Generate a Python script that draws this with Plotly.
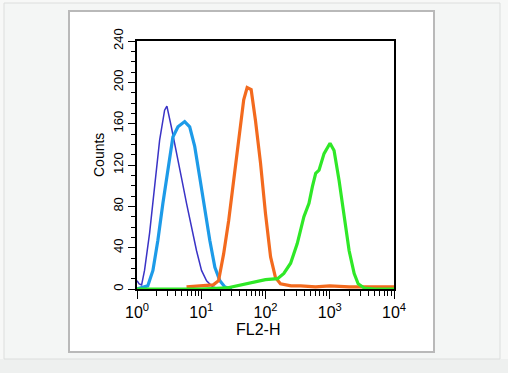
import plotly.graph_objects as go

# ---- data ----
dark_x = [1.0, 1.08, 1.18, 1.31, 1.57, 1.88, 2.25, 2.69, 2.92, 3.42, 4.10, 4.91, 5.89, 7.05, 8.45, 10.1, 12.1, 15.1, 20.0, 30.0]
dark_y = [8, 5, 4, 18, 54, 96, 144, 173, 177, 157, 134, 108, 83, 60, 37, 18, 8, 2, 0, 0]

light_x = [1.0, 1.47, 1.77, 2.11, 2.53, 3.03, 3.62, 4.34, 4.9, 5.52, 6.61, 7.91, 9.48, 11.3, 13.6, 16.3, 19.5, 23.3, 30.0]
light_y = [0, 3, 18, 47, 83, 118, 147, 157, 160, 162, 157, 138, 108, 76, 47, 21, 8, 2, 0]

orange_x = [5.9, 10.0, 15.4, 18.6, 22.3, 26.7, 32.0, 38.3, 45.8, 51.8, 59.8, 69.8, 83.6, 100, 120, 143, 171, 250, 352, 600, 1000, 2000, 5000, 10000]
orange_y = [2, 3, 4, 8, 34, 66, 105, 147, 183, 195, 193, 163, 122, 73, 31, 11, 5, 3, 3, 2, 3, 2, 2, 2]

green_x = [1.0, 10, 25, 40.6, 64.9, 100, 154, 193, 246, 312, 396, 475, 537, 604, 681, 815, 1010, 1167, 1397, 1671, 2003, 2400, 2768, 3436, 5000, 10000]
green_y = [0, 0, 1, 4, 7, 9, 10, 15, 25, 44, 70, 83, 99, 112, 115, 131, 141, 134, 105, 70, 37, 15, 5, 1, 0, 0]

x_tickvals = [1, 10, 100, 1000, 10000]
x_ticktext = ["10<sup>0</sup>", "10<sup>1</sup>", "10<sup>2</sup>", "10<sup>3</sup>", "10<sup>4</sup>"]
y_tickvals = [0, 40, 80, 120, 160, 200, 240]
x_minor = [m * 10 ** d for d in range(4) for m in range(2, 10)]

# ---- layout geometry ----
W, H = 508, 373
ML, MR, MT, MB = 137, 114, 41, 84
PW, PH = W - ML - MR, H - MT - MB


def px(x):
    return (x - ML) / PW


def py(y):
    return (H - MB - y) / PH


fig = go.Figure()
fig.add_trace(go.Scatter(x=dark_x, y=dark_y, mode="lines", line=dict(color="#3a33c6", width=1.5)))
fig.add_trace(go.Scatter(x=light_x, y=light_y, mode="lines", line=dict(color="#1d9be8", width=3.2)))
fig.add_trace(go.Scatter(x=orange_x, y=orange_y, mode="lines", line=dict(color="#f36a1e", width=3.2)))
fig.add_trace(go.Scatter(x=green_x, y=green_y, mode="lines", line=dict(color="#2fe827", width=3.2)))

shapes = [
    dict(type="rect", xref="paper", yref="paper", x0=px(0), x1=px(W), y0=py(H), y1=py(359),
         fillcolor="#eef0ef", line=dict(width=0), layer="below"),
    dict(type="rect", xref="paper", yref="paper", x0=px(4), x1=px(500), y0=py(359), y1=py(3),
         fillcolor="#f4f6f5", line=dict(color="#dcdedd", width=1), layer="below"),
    dict(type="rect", xref="paper", yref="paper", x0=px(69), x1=px(434), y0=py(352), y1=py(11),
         fillcolor="white", line=dict(color="#b9b9b9", width=2), layer="below"),
]

font_main = "Liberation Sans, Arial, sans-serif"

fig.update_layout(
    width=W, height=H,
    margin=dict(l=ML, r=MR, t=MT, b=MB, pad=0),
    paper_bgcolor="#f7f8f7",
    plot_bgcolor="white",
    showlegend=False,
    shapes=shapes,
    font=dict(family=font_main, color="black", size=13),
    xaxis=dict(
        type="log", range=[0, 4], tickmode="array", tickvals=x_tickvals, ticktext=x_ticktext,
        ticks="outside", ticklen=8, tickwidth=1.4, tickcolor="black",
        showline=True, linecolor="black", linewidth=2, mirror=True,
        showgrid=False, zeroline=False, tickfont=dict(size=16),
        minor=dict(tickmode="array", tickvals=x_minor, ticks="outside", ticklen=5,
                   tickwidth=1.2, tickcolor="black", showgrid=False),
    ),
    yaxis=dict(
        range=[0, 240], tickmode="array", tickvals=y_tickvals, tickangle=-90,
        ticks="outside", ticklen=7, tickwidth=1.4, tickcolor="black",
        showline=True, linecolor="black", linewidth=2, mirror=True,
        showgrid=False, zeroline=False, tickfont=dict(size=13),
        minor=dict(dtick=10, ticks="outside", ticklen=4, tickwidth=1.2, tickcolor="black", showgrid=False),
    ),
    annotations=[
        dict(text="FL2-H", xref="paper", yref="paper", x=px(258), y=py(329), showarrow=False,
             xanchor="center", yanchor="middle", font=dict(size=16)),
        dict(text="Counts", xref="paper", yref="paper", x=px(99), y=py(155), showarrow=False,
             textangle=-90, xanchor="center", yanchor="middle", font=dict(size=14)),
    ],
)

fig.write_html(
    "out.html",
    config={"displayModeBar": False},
    post_script="document.body.style.margin='0';document.body.style.overflow='hidden';",
)
